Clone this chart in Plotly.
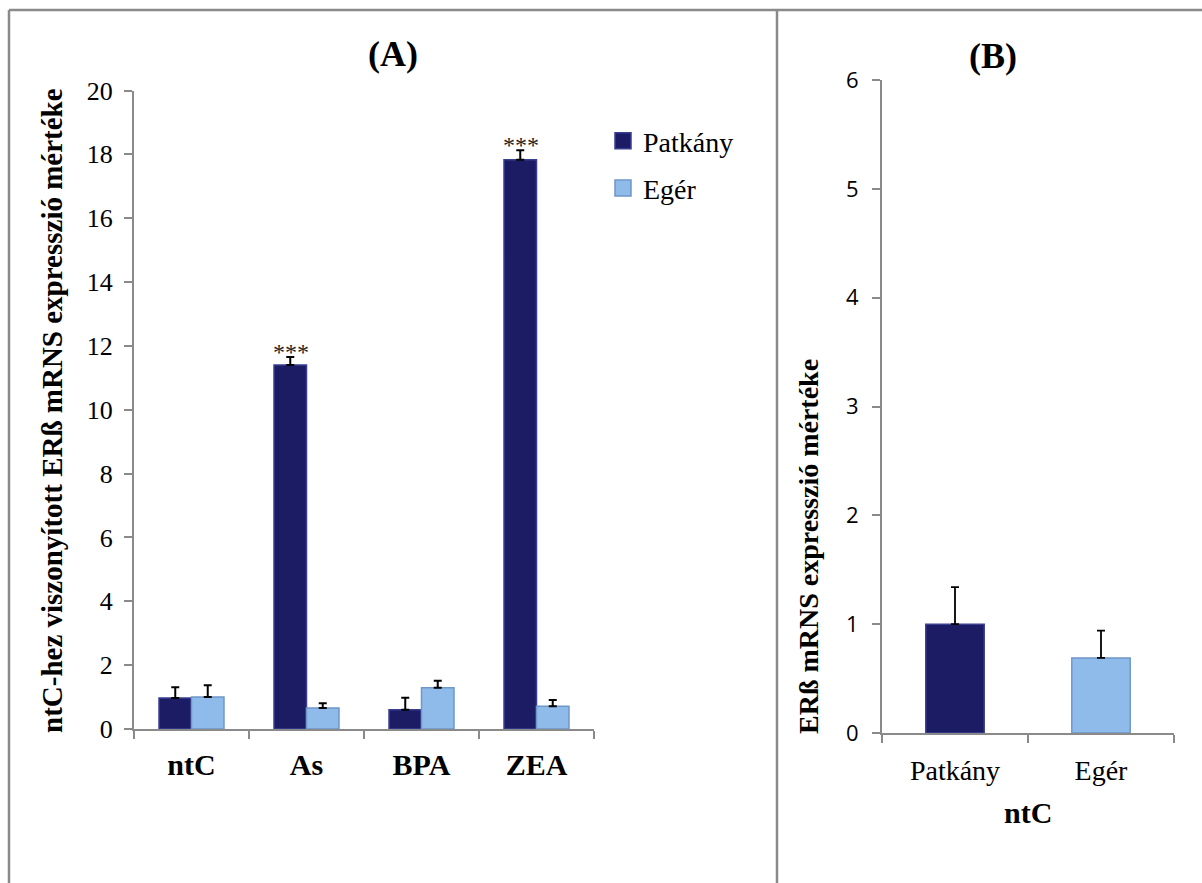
import plotly.graph_objects as go

# ---- data ----
categories_a = ["ntC", "As", "BPA", "ZEA"]
patkany_a = [0.97, 11.4, 0.6, 17.83]
patkany_a_err = [0.34, 0.25, 0.38, 0.3]
eger_a = [1.0, 0.66, 1.29, 0.71]
eger_a_err = [0.37, 0.15, 0.22, 0.2]
signif_a = ["", "***", "", "***"]

categories_b = ["Patkány", "Egér"]
values_b = [1.0, 0.69]
errors_b = [0.34, 0.25]

series_names = ["Patkány", "Egér"]
yticks_a = list(range(0, 21, 2))
yticks_b = list(range(0, 7))

W, H = 1202, 883
NAVY = "#1b1c64"
NAVY_EDGE = "#3a3e92"
LIGHT = "#8fbbea"
LIGHT_EDGE = "#6f97c8"
AXIS = "#8a8a8a"
SERIF = "Liberation Serif, Times New Roman, serif"
SANS = "Open Sans, Noto Sans, sans-serif"

def px_x(p):
    return p / W

def px_y(p):
    return 1 - p / H

fig = go.Figure()

fig.add_trace(go.Bar(
    x=categories_a, y=patkany_a, name=series_names[0], showlegend=False,
    marker=dict(color=NAVY, line=dict(color=NAVY_EDGE, width=1.5)),
    error_y=dict(type="data", symmetric=False, array=patkany_a_err,
                 arrayminus=[0] * len(patkany_a), color="black", thickness=2, width=4),
    xaxis="x", yaxis="y",
))
fig.add_trace(go.Bar(
    x=categories_a, y=eger_a, name=series_names[1], showlegend=False,
    marker=dict(color=LIGHT, line=dict(color=LIGHT_EDGE, width=1.5)),
    error_y=dict(type="data", symmetric=False, array=eger_a_err,
                 arrayminus=[0] * len(eger_a), color="black", thickness=2, width=4),
    xaxis="x", yaxis="y",
))
# legend entries with larger square symbols (no data drawn)
for name, col, edge, grp in [(series_names[0], NAVY, NAVY_EDGE, "p"),
                             (series_names[1], LIGHT, LIGHT_EDGE, "e")]:
    fig.add_trace(go.Scatter(
        x=[None], y=[None], mode="markers", name=name, legendgroup=grp,
        marker=dict(symbol="square", size=16, color=col, line=dict(color=edge, width=1.5)),
        xaxis="x", yaxis="y", hoverinfo="skip",
    ))

fig.add_trace(go.Bar(
    x=categories_b, y=values_b, showlegend=False,
    marker=dict(color=[NAVY, LIGHT], line=dict(color=[NAVY_EDGE, LIGHT_EDGE], width=1.5)),
    error_y=dict(type="data", symmetric=False, array=errors_b,
                 arrayminus=[0] * len(values_b), color="black", thickness=1.8, width=4),
    xaxis="x2", yaxis="y2", width=0.4,
))

annotations = []
for cat, v, e, s in zip(categories_a, patkany_a, patkany_a_err, signif_a):
    if s:
        annotations.append(dict(
            x=cat, y=v + e, xref="x", yref="y", text=s, showarrow=False,
            xshift=-16, yshift=5, yanchor="middle", xanchor="center",
            font=dict(family=SERIF, size=24, color="#222"),
        ))

def paper_text(x, y, text, size, angle=0):
    return dict(x=px_x(x), y=px_y(y), xref="paper", yref="paper", text=text,
                showarrow=False, xanchor="center", yanchor="middle", textangle=angle,
                font=dict(family=SERIF, size=size, color="black"))

annotations += [
    paper_text(393, 54, "<b>(A)</b>", 36),
    paper_text(993, 56, "<b>(B)</b>", 36),
    paper_text(52, 411, "<b>ntC-hez viszonyított ERß mRNS expresszió mértéke</b>", 29, -90),
    paper_text(808, 547, "<b>ERß mRNS expresszió mértéke</b>", 28, -90),
    paper_text(1028, 812, "<b>ntC</b>", 30),
]

shapes = [
    dict(type="line", xref="paper", yref="paper", x0=px_x(9), x1=1, y0=px_y(10), y1=px_y(10),
         line=dict(color=AXIS, width=2.5)),
    dict(type="line", xref="paper", yref="paper", x0=px_x(9), x1=px_x(9), y0=0, y1=px_y(10),
         line=dict(color=AXIS, width=2.5)),
    dict(type="line", xref="paper", yref="paper", x0=px_x(777), x1=px_x(777), y0=0, y1=px_y(10),
         line=dict(color=AXIS, width=2.5)),
]

fig.update_layout(
    width=W, height=H,
    margin=dict(l=0, r=0, t=0, b=0, autoexpand=False),
    paper_bgcolor="white", plot_bgcolor="white",
    barmode="group", bargap=0.435, bargroupgap=0,
    showlegend=True,
    legend=dict(x=px_x(603), y=px_y(116), xanchor="left", yanchor="top",
                font=dict(family=SERIF, size=28, color="black"),
                traceorder="grouped", tracegroupgap=8, bgcolor="rgba(0,0,0,0)",
                itemclick=False, itemdoubleclick=False),
    xaxis=dict(domain=[px_x(134), px_x(594)], anchor="y", type="category",
               showline=True, linecolor=AXIS, linewidth=2, ticks="outside",
               tickson="boundaries", ticklen=8, tickcolor=AXIS, tickwidth=2,
               showgrid=False, tickfont=dict(family=SERIF, size=30, color="black"),
               tickprefix="<b>", ticksuffix="</b>", automargin=False,
               ticklabelstandoff=8),
    yaxis=dict(domain=[px_y(729), px_y(90.5)], anchor="x", range=[0, 20],
               tickvals=yticks_a, showline=True, linecolor=AXIS, linewidth=2,
               ticks="outside", ticklen=8, tickcolor=AXIS, tickwidth=2, showgrid=False,
               zeroline=False, tickfont=dict(family=SERIF, size=26, color="black"),
               automargin=False, ticklabelstandoff=6),
    xaxis2=dict(domain=[px_x(882), px_x(1174)], anchor="y2", type="category",
                showline=True, linecolor=AXIS, linewidth=2, ticks="outside",
                tickson="boundaries", ticklen=8, tickcolor=AXIS, tickwidth=2,
                showgrid=False, tickfont=dict(family=SERIF, size=28, color="black"),
                automargin=False, ticklabelstandoff=11),
    yaxis2=dict(domain=[px_y(733), px_y(80)], anchor="x2", range=[0, 6],
                tickvals=yticks_b, showline=True, linecolor=AXIS, linewidth=2,
                ticks="outside", ticklen=8, tickcolor=AXIS, tickwidth=2, showgrid=False,
                zeroline=False, tickfont=dict(family=SANS, size=22, color="black"),
                automargin=False, ticklabelstandoff=9),
    annotations=annotations,
    shapes=shapes,
)

fig.write_html("out.html", config={"displayModeBar": False},
               post_script="document.body.style.margin='0';document.body.style.overflow='hidden';")
